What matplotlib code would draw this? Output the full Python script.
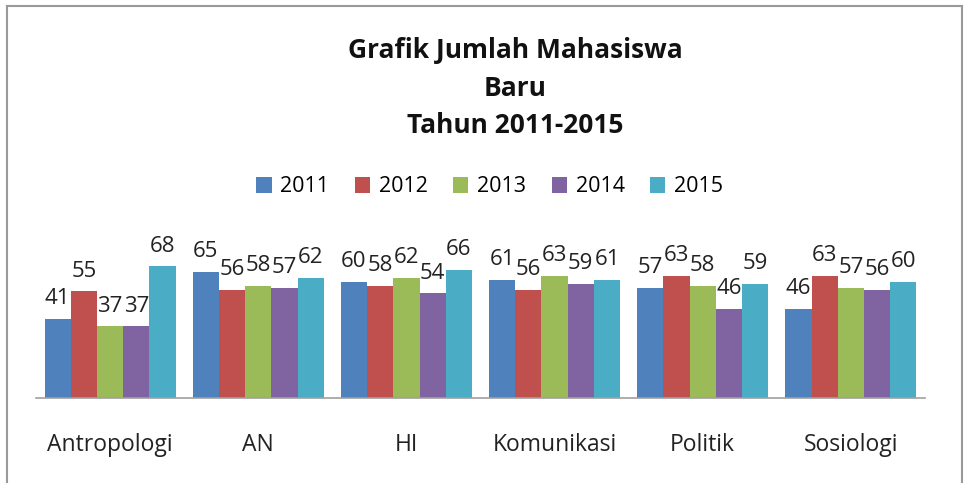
import matplotlib.pyplot as plt
import numpy as np
from matplotlib.lines import Line2D

# Data
categories = ["Antropologi", "AN", "HI", "Komunikasi", "Politik", "Sosiologi"]
years = ["2011", "2012", "2013", "2014", "2015"]
v2011 = [41, 65, 60, 61, 57, 46]
v2012 = [55, 56, 58, 56, 63, 63]
v2013 = [37, 58, 62, 63, 58, 57]
v2014 = [37, 57, 54, 59, 46, 56]
v2015 = [68, 62, 66, 61, 59, 60]
series = [v2011, v2012, v2013, v2014, v2015]
colors = ["#4F81BD", "#C0504D", "#9BBB59", "#8064A2", "#4BACC6"]

plt.rcParams['font.family'] = ['Open Sans', 'DejaVu Sans']

fig = plt.figure(figsize=(9.66, 4.83), dpi=100)
ax = fig.add_axes([36 / 966, 1 - 398 / 483, (925 - 36) / 966, 155 / 483])

x = np.arange(len(categories))
bw = 0.177
for i, (vals, c) in enumerate(zip(series, colors)):
    pos = x + (i - 2) * bw
    ax.bar(pos, vals, width=bw, color=c, label=years[i], zorder=2)
    for p, v in zip(pos, vals):
        ax.annotate(str(v), (p, v), xytext=(0, 7), textcoords='offset points',
                    ha='center', va='bottom', fontsize=16, color='#222222')

ax.set_xlim(-0.5, len(categories) - 0.5)
ax.set_ylim(0, 80)
ax.set_yticks([])
ax.set_xticks(x)
ax.set_xticklabels(categories, fontsize=16.5, color='#222222')
ax.tick_params(axis='x', length=0, pad=25)
for s in ['top', 'right', 'left']:
    ax.spines[s].set_visible(False)
ax.spines['bottom'].set_color('#a0a0a0')
ax.spines['bottom'].set_linewidth(1.2)

fig.text(0.533, 1 - 88 / 483, "Grafik Jumlah Mahasiswa\nBaru\nTahun 2011-2015",
         ha='center', va='center', fontsize=19, fontweight='bold',
         linespacing=1.5, color='#111111')

fig.legend(loc='center', bbox_to_anchor=(0.507, 1 - 187 / 483), ncol=5,
           frameon=False, fontsize=15.5, handlelength=0.7, handleheight=0.7,
           handletextpad=0.4, columnspacing=1.2)

# frame around the chart
fig.add_artist(Line2D([7 / 966, 7 / 966], [0, 1 - 6 / 483], color='#999999', lw=1.5))
fig.add_artist(Line2D([962 / 966, 962 / 966], [0, 1 - 6 / 483], color='#999999', lw=1.5))
fig.add_artist(Line2D([7 / 966, 962 / 966], [1 - 6 / 483, 1 - 6 / 483], color='#999999', lw=1.5))

plt.savefig('out.png', dpi=100)
plt.close()
